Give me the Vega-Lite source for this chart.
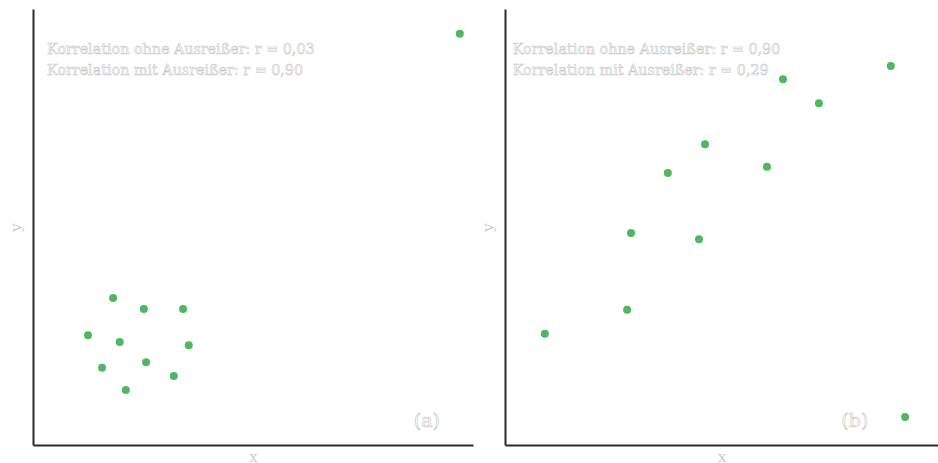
{
  "$schema": "https://vega.github.io/schema/vega-lite/v6.json",
  "padding": {"left": 8, "top": 9, "right": 0, "bottom": 0},
  "background": "white",
  "spacing": 7,
  "config": {
    "view": {"stroke": null},
    "axis": {
      "domain": true,
      "domainColor": "#2b2b2b",
      "domainWidth": 2,
      "ticks": false,
      "labels": false,
      "grid": false,
      "titleColor": "#cccccc",
      "titleFont": "DejaVu Serif",
      "titleFontWeight": "normal",
      "titleFontSize": 15
    },
    "axisX": {"titlePadding": 4},
    "axisY": {"titlePadding": 10}
  },
  "datasets": {
    "a": [
      {"x": 9.70, "y": 9.43},
      {"x": 1.82, "y": 3.37},
      {"x": 2.52, "y": 3.12},
      {"x": 3.41, "y": 3.12},
      {"x": 1.25, "y": 2.52},
      {"x": 1.97, "y": 2.36},
      {"x": 3.54, "y": 2.29},
      {"x": 1.57, "y": 1.77},
      {"x": 2.57, "y": 1.90},
      {"x": 3.20, "y": 1.58},
      {"x": 2.11, "y": 1.26}
    ],
    "b": [
      {"x": 8.91, "y": 8.69},
      {"x": 6.42, "y": 8.39},
      {"x": 7.25, "y": 7.84},
      {"x": 4.62, "y": 6.90},
      {"x": 3.76, "y": 6.24},
      {"x": 6.05, "y": 6.38},
      {"x": 2.91, "y": 4.86},
      {"x": 4.48, "y": 4.72},
      {"x": 2.82, "y": 3.10},
      {"x": 0.92, "y": 2.55},
      {"x": 9.24, "y": 0.64}
    ]
  },
  "hconcat": [
    {
      "width": 440,
      "height": 436,
      "layer": [
        {
          "data": {"name": "a"},
          "mark": {"type": "circle", "size": 64, "color": "#4fb85f", "opacity": 1},
          "encoding": {
            "x": {"field": "x", "type": "quantitative", "scale": {"domain": [0, 10]}, "title": "x"},
            "y": {"field": "y", "type": "quantitative", "scale": {"domain": [0, 10]}, "title": "y"}
          }
        },
        {
          "data": {"values": [{"t": ["Korrelation ohne Ausreißer: r = 0,03", "Korrelation mit Ausreißer: r = 0,90"]}]},
          "mark": {"type": "text", "align": "left", "baseline": "top", "font": "DejaVu Serif", "fontSize": 14.3, "lineHeight": 21, "fill": "white", "stroke": "#c4c4c4", "strokeWidth": 0.55},
          "encoding": {
            "text": {"field": "t"},
            "x": {"datum": 0.32, "type": "quantitative"},
            "y": {"datum": 9.23, "type": "quantitative"}
          }
        },
        {
          "data": {"values": [{"t": "(a)"}]},
          "mark": {"type": "text", "align": "center", "baseline": "middle", "font": "DejaVu Serif", "fontSize": 19, "fill": "white", "stroke": "#c4c4c4", "strokeWidth": 0.6},
          "encoding": {
            "text": {"field": "t"},
            "x": {"datum": 8.95, "type": "quantitative"},
            "y": {"datum": 0.55, "type": "quantitative"}
          }
        }
      ]
    },
    {
      "width": 433,
      "height": 436,
      "layer": [
        {
          "data": {"name": "b"},
          "mark": {"type": "circle", "size": 64, "color": "#4fb85f", "opacity": 1},
          "encoding": {
            "x": {"field": "x", "type": "quantitative", "scale": {"domain": [0, 10]}, "title": "x"},
            "y": {"field": "y", "type": "quantitative", "scale": {"domain": [0, 10]}, "title": "y"}
          }
        },
        {
          "data": {"values": [{"t": ["Korrelation ohne Ausreißer: r = 0,90", "Korrelation mit Ausreißer: r = 0,29"]}]},
          "mark": {"type": "text", "align": "left", "baseline": "top", "font": "DejaVu Serif", "fontSize": 14.3, "lineHeight": 21, "fill": "white", "stroke": "#c4c4c4", "strokeWidth": 0.55},
          "encoding": {
            "text": {"field": "t"},
            "x": {"datum": 0.18, "type": "quantitative"},
            "y": {"datum": 9.23, "type": "quantitative"}
          }
        },
        {
          "data": {"values": [{"t": "(b)"}]},
          "mark": {"type": "text", "align": "center", "baseline": "middle", "font": "DejaVu Serif", "fontSize": 19, "fill": "white", "stroke": "#c4c4c4", "strokeWidth": 0.6},
          "encoding": {
            "text": {"field": "t"},
            "x": {"datum": 8.08, "type": "quantitative"},
            "y": {"datum": 0.55, "type": "quantitative"}
          }
        }
      ]
    }
  ]
}
